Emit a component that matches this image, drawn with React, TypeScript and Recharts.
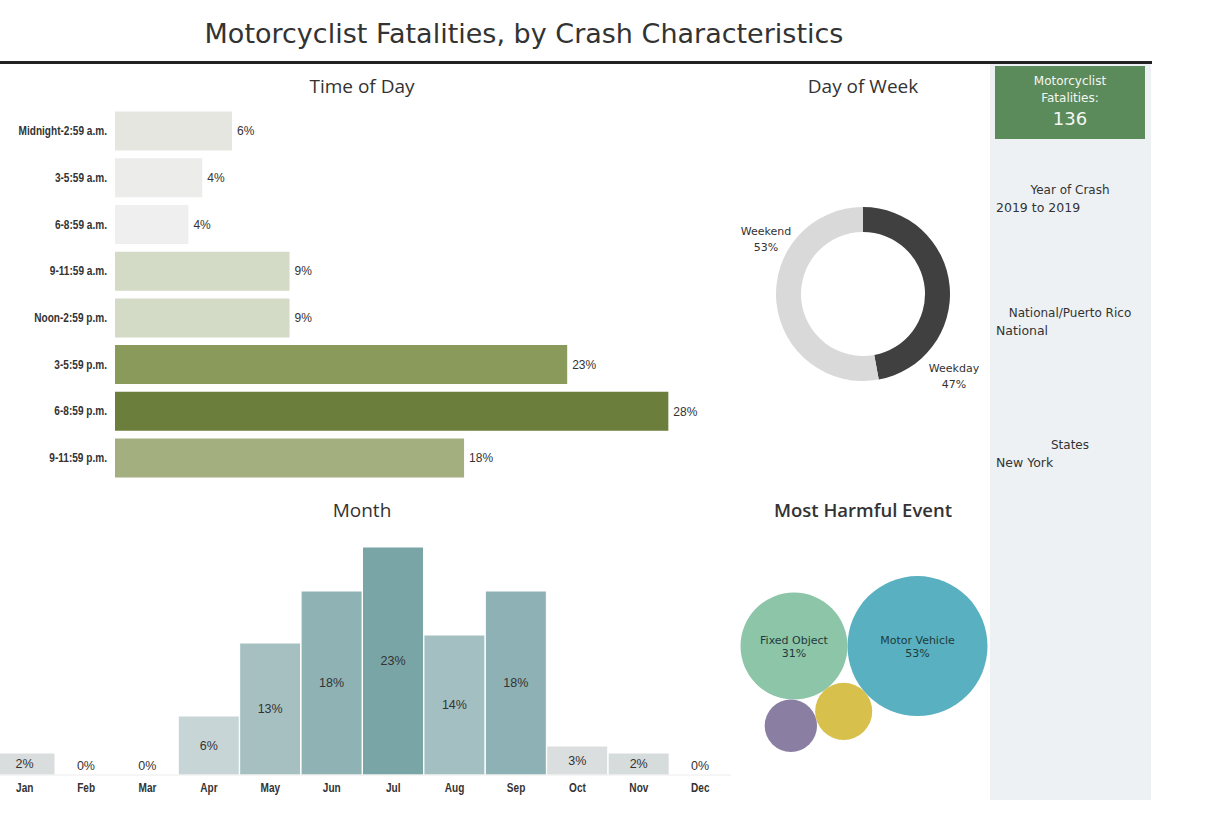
import React from 'react';
import {
  BarChart, Bar, XAxis, YAxis, Cell, LabelList,
  PieChart, Pie, ScatterChart, Scatter, ZAxis,
} from 'recharts';

// ---------------- DATA ----------------
const timeCategories = [
  'Midnight-2:59 a.m.', '3-5:59 a.m.', '6-8:59 a.m.', '9-11:59 a.m.',
  'Noon-2:59 p.m.', '3-5:59 p.m.', '6-8:59 p.m.', '9-11:59 p.m.',
];
const timeShares = [5.9, 4.4, 3.7, 8.8, 8.8, 22.8, 27.9, 17.6];
const timeColors = ['#e5e6df', '#ececea', '#efefef', '#d3dac5', '#d3dac5', '#8a9a5b', '#6c7e3b', '#a3af7e'];

const months = ['Jan', 'Feb', 'Mar', 'Apr', 'May', 'Jun', 'Jul', 'Aug', 'Sep', 'Oct', 'Nov', 'Dec'];
const monthShares = [2.2, 0, 0, 5.9, 13.2, 18.4, 22.8, 14.0, 18.4, 2.9, 2.2, 0];
const monthColors = ['#d9dddd', '#d9dddd', '#d9dddd', '#c8d5d7', '#a6c0c2', '#8fb2b5', '#7aa5a6', '#a3bfc1', '#8db1b4', '#dadedf', '#d6dcdc', '#d9dddd'];

const dowNames = ['Weekday', 'Weekend'];
const dowShares = [47.1, 52.9];
const dowColors = ['#404040', '#d9d9d9'];
const dowLabelAngles = [-42, 150.4];
const dowLabelDist = [122.5, 111.5];

const eventNames = ['Motor Vehicle', 'Fixed Object', 'Non-Collision', 'Other'];
const eventShares = [52.9, 30.9, 8.8, 7.4];
const eventColors = ['#58b0c0', '#8cc5a8', '#d8c04d', '#8a7fa2'];
const eventShowLabel = [true, true, false, false];

const sideFilters = [
  { title: 'Year of Crash', value: '2019 to 2019' },
  { title: 'National/Puerto Rico', value: 'National' },
  { title: 'States', value: 'New York' },
];
const totalFatalities = 136;

// ---------------- STYLE ----------------
const SANS = '"Liberation Sans", Arial, sans-serif';
const TITLE = '"Open Sans", "Noto Sans", sans-serif';
const DV = '"DejaVu Sans", Verdana, sans-serif';

const timeData = timeCategories.map((name, i) => ({ name, value: timeShares[i] }));
const monthData = months.map((name, i) => ({ name, value: monthShares[i] }));
const dowData = dowNames.map((name, i) => ({ name, value: dowShares[i] }));

// ---------------- BUBBLE PACKING ----------------
const BUBBLE_MAX_R = 70;
const BUBBLE_W = 272;
const BUBBLE_H = 274;
const maxShare = Math.max(...eventShares);
const bubbleRadius = (s: number) => BUBBLE_MAX_R * Math.sqrt(s / maxShare);

type Circ = { x: number; y: number; r: number };
function tangentLower(a: Circ, b: Circ, r: number) {
  const da = a.r + r, db = b.r + r;
  const dx = b.x - a.x, dy = b.y - a.y;
  const d = Math.hypot(dx, dy);
  const along = (da * da - db * db + d * d) / (2 * d);
  const h = Math.sqrt(Math.max(0, da * da - along * along));
  const ux = dx / d, uy = dy / d;
  const px = a.x + along * ux, py = a.y + along * uy;
  const s1 = { x: px - uy * h, y: py + ux * h };
  const s2 = { x: px + uy * h, y: py - ux * h };
  return s1.y < s2.y ? s1 : s2;
}
function packBubbles() {
  const circles: Circ[] = [];
  eventShares.forEach((s, i) => {
    const r = bubbleRadius(s);
    if (i === 0) circles.push({ x: 0, y: 0, r });
    else if (i === 1) circles.push({ x: -(circles[0].r + r), y: 0, r });
    else {
      const p = tangentLower(circles[i - 2], circles[i - 1], r);
      circles.push({ x: p.x, y: p.y, r });
    }
  });
  const minX = Math.min(...circles.map(c => c.x - c.r));
  const maxX = Math.max(...circles.map(c => c.x + c.r));
  const minY = Math.min(...circles.map(c => c.y - c.r));
  const maxY = Math.max(...circles.map(c => c.y + c.r));
  const mx = (minX + maxX) / 2, my = (minY + maxY) / 2;
  return {
    circles,
    xDomain: [mx - BUBBLE_W / 2, mx + BUBBLE_W / 2],
    yDomain: [my - BUBBLE_H / 2, my + BUBBLE_H / 2],
  };
}
const packed = packBubbles();
const eventData = eventNames.map((name, i) => ({
  name, x: packed.circles[i].x, y: packed.circles[i].y, z: eventShares[i],
  color: eventColors[i], show: eventShowLabel[i],
}));

// ---------------- RENDERERS ----------------
const pct = (v: any) => `${Math.round(Number(v))}%`;

const CondensedYTick = (props: any) => {
  const { x, y, payload } = props;
  return (
    <g transform={`translate(${x},${y})`}>
      <text transform="scale(0.84,1)" textAnchor="end" dominantBaseline="central"
        fontFamily={SANS} fontWeight={700} fontSize={12} fill="#333">{payload.value}</text>
    </g>
  );
};
const CondensedXTick = (props: any) => {
  const { x, y, payload } = props;
  return (
    <g transform={`translate(${x},${y})`}>
      <text transform="scale(0.84,1)" textAnchor="middle" dy="0.71em"
        fontFamily={SANS} fontWeight={700} fontSize={12} fill="#333">{payload.value}</text>
    </g>
  );
};

const renderMonthLabel = (props: any) => {
  const { x, y, width, height, value } = props;
  const bottom = y + height;
  const cy = Math.min(y + height / 2, bottom - 9);
  return (
    <text x={x + width / 2} y={cy} textAnchor="middle" dominantBaseline="central"
      fontFamily={SANS} fontSize={12.5} fill="#333">{pct(value)}</text>
  );
};

const renderDowLabel = (props: any) => {
  const { cx, cy, index, name, value } = props;
  const a = (dowLabelAngles[index] * Math.PI) / 180;
  const lx = cx + dowLabelDist[index] * Math.cos(a);
  const ly = cy - dowLabelDist[index] * Math.sin(a);
  return (
    <text x={lx} y={ly} textAnchor="middle" fontFamily={DV} fontSize={11} fill="#333">
      <tspan x={lx} dy={-4}>{name}</tspan>
      <tspan x={lx} dy={16}>{pct(value)}</tspan>
    </text>
  );
};

const renderBubble = (props: any) => {
  const { cx, cy, payload } = props;
  const r = typeof props.width === 'number' ? props.width / 2 : Math.sqrt((props.size || 0) / Math.PI);
  return (
    <g>
      <circle cx={cx} cy={cy} r={r} fill={payload.color} />
      {payload.show && (
        <text x={cx} y={cy} textAnchor="middle" fontFamily={DV} fontSize={11} fill="#1f3b3b">
          <tspan x={cx} dy={-2}>{payload.name}</tspan>
          <tspan x={cx} dy={13}>{pct(payload.z)}</tspan>
        </text>
      )}
    </g>
  );
};

const sectionTitle = (text: string, centerX: number, top: number, weight = 400, size = 19) => (
  <div style={{
    position: 'absolute', left: centerX - 150, width: 300, top, textAlign: 'center',
    fontFamily: TITLE, fontSize: size, fontWeight: weight, color: '#333', lineHeight: '24px',
  }}>{text}</div>
);

export default function App() {
  return (
    <div style={{ position: 'absolute', left: 0, top: 0, width: 1211, height: 834, background: '#fff', overflow: 'hidden' }}>
      {/* Header */}
      <div style={{
        position: 'absolute', left: 0, width: 1048, top: 14, textAlign: 'center',
        fontFamily: DV, fontSize: 27, color: '#333', lineHeight: '40px',
      }}>Motorcyclist Fatalities, by Crash Characteristics</div>
      <div style={{ position: 'absolute', left: 0, top: 61, width: 1152, height: 3, background: '#222' }} />

      {/* Side panel */}
      <div style={{ position: 'absolute', left: 990, top: 64, width: 161, height: 736, background: '#eef1f4' }} />
      <div style={{
        position: 'absolute', left: 995, top: 66, width: 150, height: 73, background: '#5b8a5b',
        color: '#f4f7f2', textAlign: 'center', fontFamily: DV,
      }}>
        <div style={{ fontSize: 12, lineHeight: '17px', marginTop: 7 }}>Motorcyclist</div>
        <div style={{ fontSize: 12, lineHeight: '17px' }}>Fatalities:</div>
        <div style={{ fontSize: 18, lineHeight: '24px' }}>{totalFatalities}</div>
      </div>
      {sideFilters.map((f, i) => {
        const tops = [182, 305, 437];
        return (
          <div key={f.title} style={{ position: 'absolute', left: 995, top: tops[i], width: 150, color: '#333', fontFamily: DV }}>
            <div style={{ textAlign: 'center', fontSize: 12, lineHeight: '17px' }}>{f.title}</div>
            <div style={{ fontSize: 12.5, lineHeight: '18px', marginLeft: 1 }}>{f.value}</div>
          </div>
        );
      })}

      {/* Time of Day */}
      {sectionTitle('Time of Day', 362, 74)}
      <div style={{ position: 'absolute', left: 0, top: 100 }}>
        <BarChart width={720} height={390} layout="vertical" data={timeData}
          margin={{ top: 7.6, right: 10, bottom: 8.8, left: 0 }} barSize={39}>
          <XAxis type="number" domain={[0, 30]} hide />
          <YAxis type="category" dataKey="name" width={115} axisLine={false} tickLine={false} interval={0}
            tick={<CondensedYTick />} />
          <Bar dataKey="value" isAnimationActive={false}>
            {timeData.map((d, i) => <Cell key={d.name} fill={timeColors[i]} />)}
            <LabelList dataKey="value" position="right" offset={5} formatter={pct}
              fill="#333" fontSize={12} fontFamily={SANS} />
          </Bar>
        </BarChart>
      </div>

      {/* Day of Week */}
      {sectionTitle('Day of Week', 863, 74)}
      <div style={{ position: 'absolute', left: 733, top: 164 }}>
        <PieChart width={260} height={260} margin={{ top: 0, right: 0, bottom: 0, left: 0 }}>
          <Pie data={dowData} dataKey="value" nameKey="name" cx="50%" cy="50%"
            innerRadius={62} outerRadius={87} startAngle={90} endAngle={-270}
            stroke="none" label={renderDowLabel} labelLine={false} isAnimationActive={false}>
            {dowData.map((d, i) => <Cell key={d.name} fill={dowColors[i]} />)}
          </Pie>
        </PieChart>
      </div>

      {/* Month */}
      {sectionTitle('Month', 362, 498)}
      <div style={{ position: 'absolute', left: -6, top: 530 }}>
        <BarChart width={737} height={275} data={monthData}
          margin={{ top: 5, right: 0, bottom: 0, left: 0 }} barCategoryGap={0}>
          <XAxis dataKey="name" height={30} tickLine={false} axisLine={{ stroke: '#ececec' }} interval={0}
            tick={<CondensedXTick />} />
          <YAxis hide domain={[0, 24]} />
          <Bar dataKey="value" minPointSize={1} isAnimationActive={false}>
            {monthData.map((d, i) => (
              <Cell key={d.name} fill={d.value > 0 ? monthColors[i] : 'transparent'}
                stroke={d.value > 0 ? '#fff' : 'none'} strokeWidth={1} />
            ))}
            <LabelList dataKey="value" content={renderMonthLabel} />
          </Bar>
        </BarChart>
      </div>

      {/* Most Harmful Event */}
      {sectionTitle('Most Harmful Event', 863, 498, 600, 18.5)}
      <div style={{ position: 'absolute', left: 728, top: 527 }}>
        <ScatterChart width={BUBBLE_W} height={BUBBLE_H} margin={{ top: 0, right: 0, bottom: 0, left: 0 }}>
          <XAxis type="number" dataKey="x" domain={packed.xDomain} hide allowDataOverflow />
          <YAxis type="number" dataKey="y" domain={packed.yDomain} hide allowDataOverflow />
          <ZAxis type="number" dataKey="z" domain={[0, maxShare]} range={[0, Math.PI * BUBBLE_MAX_R * BUBBLE_MAX_R]} />
          <Scatter data={eventData} shape={renderBubble} isAnimationActive={false} />
        </ScatterChart>
      </div>
    </div>
  );
}
